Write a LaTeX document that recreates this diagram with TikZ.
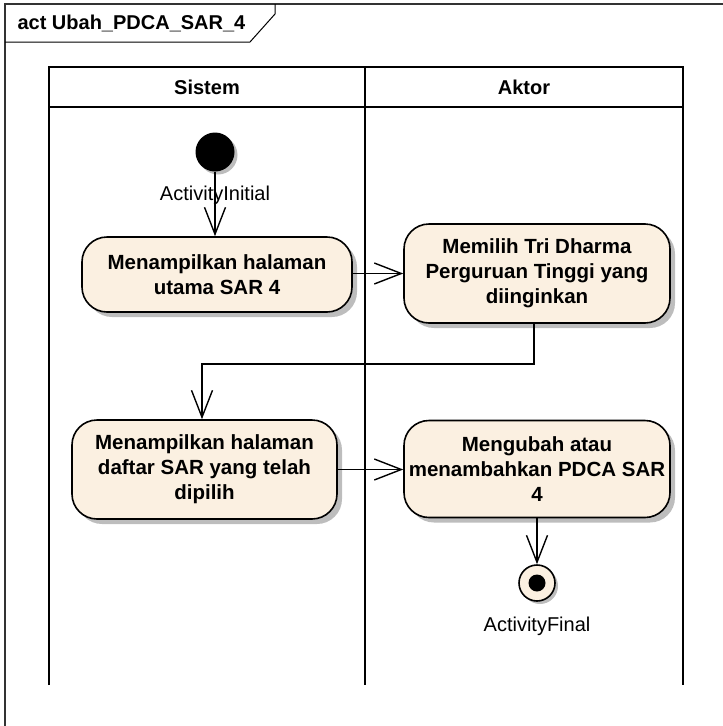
\documentclass[tikz,border=0pt]{standalone}
\usepackage{fontspec}
\setmainfont{Liberation Sans}
\usepackage{xcolor}
\usepackage{tikz}
\usetikzlibrary{arrows.meta,shadows}
\definecolor{actfill}{HTML}{FBF0E1}
\definecolor{shadegray}{HTML}{BDBDBD}

\tikzset{
  actbox/.style={draw, line width=1.6pt, rounded corners=25pt, fill=actfill,
    align=center, font=\fontsize{20.5}{25}\selectfont\bfseries, inner sep=0pt,
    drop shadow={shadow xshift=5pt, shadow yshift=-5pt, fill=shadegray, opacity=1}},
  flow/.style={line width=1.4pt, -{Straight Barb[length=27pt,width=21pt,line width=1.4pt]}},
  lane/.style={line width=2pt},
  lbl/.style={font=\fontsize{20}{24}\selectfont}
}

\begin{document}
\begin{tikzpicture}[x=1pt, y=-1pt]
  \useasboundingbox (0,0) rectangle (723,726);

  % Rahmen mit Reiter
  \draw[line width=1.2pt, black!80] (5,740) -- (5,4) -- (730,4);
  \draw[line width=1pt] (5,42) -- (250,42) -- (275,14) -- (275,4);
  \node[lbl, font=\fontsize{20}{24}\selectfont\bfseries, anchor=west] (title) at (14,23) {act Ubah\_PDCA\_SAR\_4};

  % Bahnen
  \draw[lane] (49,685) -- (49,67) -- (683,67) -- (683,685);
  \draw[lane] (49,107) -- (683,107);
  \draw[lane] (365,67) -- (365,685);
  \node[lbl, font=\fontsize{20}{24}\selectfont\bfseries] (sistem) at (207,87) {Sistem};
  \node[lbl, font=\fontsize{20}{24}\selectfont\bfseries] (aktor) at (524,87) {Aktor};

  % Start
  \fill[shadegray] (218,155) circle (19.5pt);
  \node[circle, fill=black, minimum size=39pt, inner sep=0pt] (start) at (215,152) {};
  \node[lbl] (startlbl) at (215,195) {ActivityInitial};

  % Aktivitäten
  \node[actbox, minimum width=270pt, minimum height=75pt] (tampil) at (217,274.5)
    {Menampilkan halaman\\utama SAR 4};
  \node[actbox, minimum width=266pt, minimum height=99pt] (pilih) at (537,273.5)
    {Memilih Tri Dharma\\Perguruan Tinggi yang\\diinginkan};
  \node[actbox, minimum width=265pt, minimum height=99pt] (daftar) at (204.5,469.5)
    {Menampilkan halaman\\daftar SAR yang telah\\dipilih};
  \node[actbox, minimum width=266pt, minimum height=97pt] (ubah) at (537,469)
    {Mengubah atau\\menambahkan PDCA SAR\\4};

  % Ende
  \node[circle, draw, line width=1.6pt, fill=actfill, minimum size=36pt, inner sep=0pt,
    drop shadow={shadow xshift=3pt, shadow yshift=-3pt, fill=shadegray, opacity=1}] (ende) at (537,583) {};
  \fill (ende.center) circle (8.5pt);
  \node[lbl] (endelbl) at (537,626) {ActivityFinal};

  % Übergänge
  \draw[flow] (start) -- (start |- tampil.north);
  \draw[flow] (tampil.east |- pilih.west) -- (pilih.west);
  \coordinate (knick) at (534,364);
  \coordinate (knick2) at (202,364);
  \draw[flow] (knick |- pilih.south) -- (knick) -- (knick2) -- (knick2 |- daftar.north);
  \draw[flow] (daftar.east) -- (ubah.west |- daftar.east);
  \draw[flow] (ubah.south) -- (ende.north);
\end{tikzpicture}
\end{document}
